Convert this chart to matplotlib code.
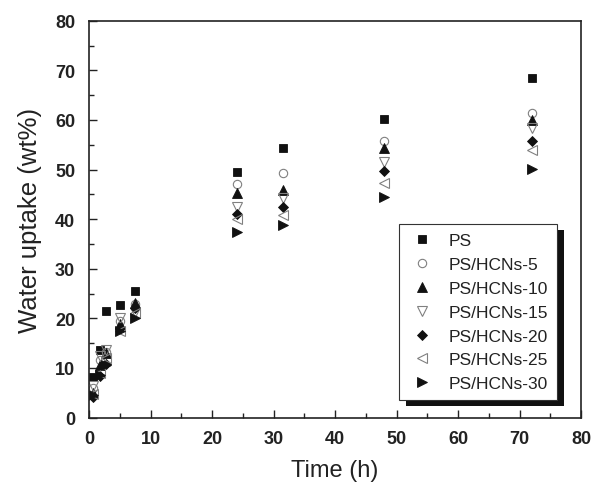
import matplotlib
matplotlib.use("Agg")
import matplotlib.pyplot as plt
from matplotlib.patches import Rectangle
from matplotlib.transforms import IdentityTransform
from matplotlib.ticker import MultipleLocator

plt.rcParams['font.family'] = ['Liberation Sans', 'DejaVu Sans']

time_h = [0.7, 1.8, 2.8, 5, 7.5, 24, 31.5, 48, 72]

series_names = ["PS", "PS/HCNs-5", "PS/HCNs-10", "PS/HCNs-15",
                "PS/HCNs-20", "PS/HCNs-25", "PS/HCNs-30"]

ps = [8.2, 13.6, 21.5, 22.7, 25.6, 49.4, 54.4, 60.2, 68.4]
hcn5 = [6.0, 11.5, 13.2, 19.5, 22.8, 47.1, 49.3, 55.7, 61.4]
hcn10 = [5.0, 10.5, 13.0, 18.8, 23.0, 45.2, 45.8, 54.3, 60.0]
hcn15 = [6.3, 12.5, 13.6, 20.0, 21.2, 42.4, 44.2, 51.5, 58.4]
hcn20 = [4.2, 8.3, 10.8, 18.0, 22.0, 41.0, 42.5, 49.6, 55.8]
hcn25 = [4.8, 9.0, 12.0, 17.5, 21.0, 40.0, 40.8, 47.3, 53.9]
hcn30 = [4.5, 8.5, 10.5, 17.5, 20.0, 37.3, 38.8, 44.4, 50.1]

values = [ps, hcn5, hcn10, hcn15, hcn20, hcn25, hcn30]
markers = ['s', 'o', '^', 'v', 'D', '<', '>']
filled = [True, False, True, False, True, False, True]
sizes = [5.5, 6, 6.5, 6.5, 5, 6.5, 6.5]

W, H = 591, 485
fig = plt.figure(figsize=(W / 100, H / 100), dpi=100)
ax = fig.add_axes([89 / W, (H - 418.5) / H, (581 - 89) / W, (418.5 - 21.7) / H])

for name, vals, m, f, s in zip(series_names, values, markers, filled, sizes):
    if f:
        ax.plot(time_h, vals, linestyle='none', marker=m, markersize=s,
                markerfacecolor='#111111', markeredgecolor='#111111',
                markeredgewidth=0.6, label=name)
    else:
        ax.plot(time_h, vals, linestyle='none', marker=m, markersize=s,
                markerfacecolor='none', markeredgecolor='#808080',
                markeredgewidth=0.8, label=name)

ax.set_xlim(0, 80)
ax.set_ylim(0, 80)
ax.xaxis.set_major_locator(MultipleLocator(10))
ax.xaxis.set_minor_locator(MultipleLocator(5))
ax.yaxis.set_major_locator(MultipleLocator(10))
ax.yaxis.set_minor_locator(MultipleLocator(5))
ax.tick_params(which='both', direction='in', top=False, right=False,
               width=1.0, color='#222222')
ax.tick_params(which='major', length=6, labelsize=13)
ax.tick_params(axis='x', which='major', pad=9)
ax.tick_params(axis='y', which='major', pad=10)
ax.tick_params(which='minor', length=3.5)
for lab in ax.get_xticklabels() + ax.get_yticklabels():
    lab.set_fontweight('bold')
    lab.set_color('#222222')
for sp in ax.spines.values():
    sp.set_linewidth(1.2)
    sp.set_color('#222222')

ax.set_xlabel('Time (h)', fontsize=17, color='#222222', labelpad=9)
ax.set_ylabel('Water uptake (wt%)', fontsize=18.5, color='#222222', labelpad=9)

leg = ax.legend(loc='lower right', bbox_to_anchor=((557 - 89) / (581 - 89), (418.5 - 401) / (418.5 - 21.7)),
                borderaxespad=0, fontsize=12.5, frameon=True, fancybox=False,
                framealpha=1, facecolor='white',
                labelspacing=0.5, handletextpad=0.75, borderpad=0.5, handlelength=1.6)
leg.get_frame().set_edgecolor('#333333')
leg.get_frame().set_linewidth(0.8)
leg.set_zorder(5)
for t in leg.get_texts():
    t.set_color('#222222')

fig.canvas.draw()
bb = leg.get_window_extent()
shadow = Rectangle((bb.x0 + 7, bb.y0 - 6), bb.width, bb.height,
                   transform=IdentityTransform(), facecolor='#111111',
                   edgecolor='none', zorder=4.5, clip_on=False)
ax.add_artist(shadow)

fig.savefig('out.png', dpi=100)
